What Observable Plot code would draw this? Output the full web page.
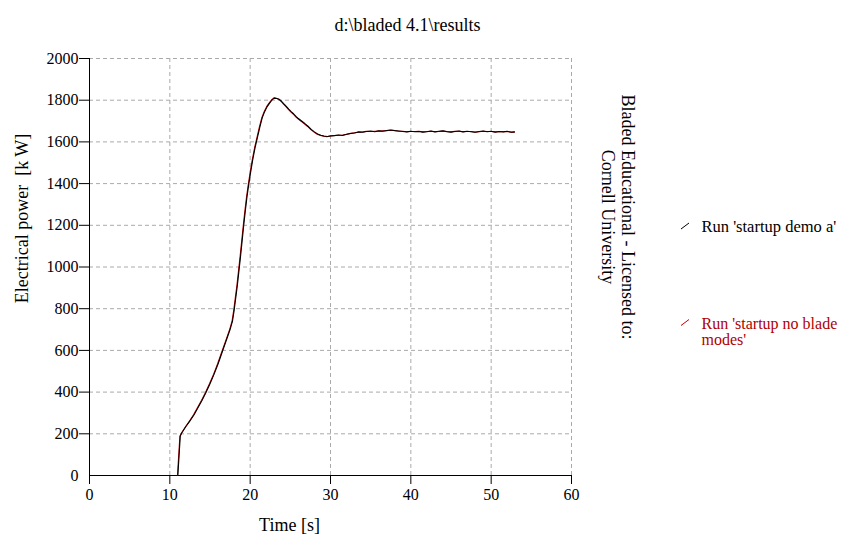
<!DOCTYPE html>
<html>
<head>
<meta charset="utf-8">
<script src="https://cdn.jsdelivr.net/npm/d3@7"></script>
<script src="https://cdn.jsdelivr.net/npm/@observablehq/plot@0.6"></script>
<style>
  body { margin: 0; background: #fff; }
  svg { font-family: "Liberation Serif", "DejaVu Serif", serif; }
</style>
</head>
<body>
<div id="chart"></div>
<script>
const titleText = "d:\\bladed 4.1\\results";
const xLabel = "Time [s]";
const yLabel = "Electrical power  [k W]";
const licenseText = "Bladed Educational - Licensed to:\nCornell University";
const seriesNames = ["Run 'startup demo a'", "Run 'startup no blade\nmodes'"];
const seriesColors = ["#000000", "#c00000"];
const labelColors = ["#000000", "#b00000"];

const xTicks = [0, 10, 20, 30, 40, 50, 60];
const yTicks = [0, 200, 400, 600, 800, 1000, 1200, 1400, 1600, 1800, 2000];

// Series A: Run 'startup demo a'
const timeA = [11.0, 11.3, 11.5, 12.0, 12.5, 13.0, 13.5, 14.0, 14.5, 15.0, 15.5, 16.0, 16.5, 17.0, 17.5, 17.8, 18.0, 18.2, 18.4, 18.6, 18.8, 19.0, 19.2, 19.4, 19.6, 19.8, 20.0, 20.3, 20.6, 20.9, 21.2, 21.5, 21.8, 22.1, 22.4, 22.7, 23.0, 23.3, 23.6, 23.9, 24.2, 24.5, 24.8, 25.1, 25.4, 25.7, 26.0, 26.4, 26.8, 27.2, 27.6, 28.0, 28.4, 28.8, 29.2, 29.6, 30.0, 30.5, 31.0, 31.5, 32.0, 32.5, 33.0, 33.5, 34.0, 34.5, 35.0, 35.5, 36.0, 36.5, 37.0, 37.5, 38.0, 38.5, 39.0, 39.5, 40.0, 40.5, 41.0, 41.5, 42.0, 42.5, 43.0, 43.5, 44.0, 44.5, 45.0, 45.5, 46.0, 46.5, 47.0, 47.5, 48.0, 48.5, 49.0, 49.5, 50.0, 50.5, 51.0, 51.5, 52.0, 52.5, 52.9];
const powerA = [0, 190, 205, 235, 262, 290, 325, 360, 398, 440, 485, 535, 590, 645, 700, 740, 790, 850, 910, 980, 1050, 1125, 1200, 1270, 1335, 1390, 1440, 1510, 1570, 1620, 1670, 1715, 1745, 1768, 1785, 1800, 1810, 1808, 1805, 1795, 1782, 1770, 1757, 1745, 1735, 1722, 1712, 1700, 1688, 1675, 1660, 1648, 1638, 1632, 1628, 1626, 1628, 1630, 1633, 1631, 1637, 1640, 1643, 1648, 1646, 1650, 1652, 1649, 1653, 1651, 1655, 1657, 1654, 1652, 1650, 1648, 1651, 1649, 1650, 1647, 1649, 1652, 1648, 1651, 1653, 1649, 1647, 1650, 1652, 1648, 1651, 1649, 1646, 1650, 1652, 1649, 1651, 1647, 1650, 1648, 1651, 1646, 1648];

// Series B: Run 'startup no blade modes'
const timeB = [10.95, 11.25, 11.45, 11.95, 12.45, 12.95, 13.45, 13.95, 14.45, 14.95, 15.45, 15.95, 16.45, 16.95, 17.45, 17.75, 17.95, 18.15, 18.35, 18.55, 18.75, 18.95, 19.15, 19.35, 19.55, 19.75, 19.95, 20.25, 20.55, 20.85, 21.15, 21.45, 21.75, 22.05, 22.35, 22.65, 22.95, 23.25, 23.55, 23.85, 24.15, 24.45, 24.75, 25.05, 25.35, 25.65, 25.95, 26.35, 26.75, 27.15, 27.55, 27.95, 28.35, 28.75, 29.15, 29.55, 30.0, 30.5, 31.0, 31.5, 32.0, 32.5, 33.0, 33.5, 34.0, 34.5, 35.0, 35.5, 36.0, 36.5, 37.0, 37.5, 38.0, 38.5, 39.0, 39.5, 40.0, 40.5, 41.0, 41.5, 42.0, 42.5, 43.0, 43.5, 44.0, 44.5, 45.0, 45.5, 46.0, 46.5, 47.0, 47.5, 48.0, 48.5, 49.0, 49.5, 50.0, 50.5, 51.0, 51.5, 52.0, 52.5, 52.9];
const powerB = [0, 188, 204, 234, 261, 291, 326, 361, 399, 441, 486, 536, 591, 646, 701, 742, 792, 852, 912, 982, 1052, 1127, 1202, 1272, 1337, 1392, 1442, 1512, 1572, 1622, 1672, 1716, 1746, 1769, 1786, 1801, 1811, 1809, 1804, 1794, 1781, 1769, 1756, 1744, 1734, 1721, 1711, 1699, 1687, 1674, 1659, 1647, 1637, 1631, 1627, 1625, 1629, 1631, 1632, 1633, 1636, 1641, 1644, 1646, 1648, 1651, 1650, 1651, 1652, 1653, 1654, 1656, 1655, 1651, 1651, 1649, 1650, 1650, 1651, 1648, 1650, 1651, 1649, 1650, 1652, 1650, 1648, 1651, 1651, 1649, 1650, 1650, 1647, 1649, 1651, 1650, 1650, 1648, 1649, 1649, 1650, 1647, 1647];

const dataA = timeA.map((t, i) => ({t, p: powerA[i]}));
const dataB = timeB.map((t, i) => ({t, p: powerB[i]}));

const fmt = d3.format("d");

const plot = Plot.plot({
  width: 852,
  height: 534,
  marginLeft: 89,
  marginRight: 281,
  marginTop: 58,
  marginBottom: 59,
  style: {fontFamily: "'Liberation Serif', 'DejaVu Serif', serif", fontSize: "16px", color: "#000", background: "#fff"},
  x: {domain: [0, 60], ticks: xTicks},
  y: {domain: [0, 2000], ticks: yTicks},
  marks: [
    Plot.gridX(xTicks.slice(1), {stroke: "#aaaaaa", strokeOpacity: 1, strokeDasharray: "4,3"}),
    Plot.gridY(yTicks.slice(1), {stroke: "#aaaaaa", strokeOpacity: 1, strokeDasharray: "4,3"}),
    Plot.axisX(xTicks, {tickSize: 9, tickPadding: 4, label: null, fontSize: 16, stroke: "#000", tickFormat: fmt}),
    Plot.axisY(yTicks.slice(1), {tickSize: 10, tickPadding: 1, label: null, fontSize: 16, stroke: "#000", tickFormat: fmt}),
    Plot.axisY([0], {tickSize: 0, tickPadding: 11, label: null, fontSize: 16, tickFormat: fmt}),
    Plot.ruleX([0], {stroke: "#000"}),
    Plot.ruleY([0], {stroke: "#000"}),
    Plot.line(dataB, {x: "t", y: "p", stroke: seriesColors[1], strokeWidth: 1.1}),
    Plot.line(dataA, {x: "t", y: "p", stroke: seriesColors[0], strokeWidth: 1.1}),
    Plot.text([titleText], {frameAnchor: "top", lineAnchor: "middle", textAnchor: "middle", dx: 77, dy: -33, fontSize: 18, fill: "#000"}),
    Plot.text([xLabel], {frameAnchor: "bottom", lineAnchor: "middle", textAnchor: "middle", dx: -41, dy: 50, fontSize: 18, fill: "#000"}),
    Plot.text([yLabel], {frameAnchor: "left", lineAnchor: "middle", textAnchor: "middle", rotate: -90, dx: -67, dy: -48.5, fontSize: 18, fill: "#000"}),
    Plot.text([licenseText], {frameAnchor: "right", lineAnchor: "middle", textAnchor: "middle", rotate: 90, dx: 47, dy: -50, fontSize: 18, lineHeight: 1.12, fill: "#000"}),
    Plot.text([seriesNames[0]], {frameAnchor: "right", lineAnchor: "middle", textAnchor: "start", dx: 130, dy: -40.5, fontSize: 16.5, fill: labelColors[0]}),
    Plot.text([seriesNames[1]], {frameAnchor: "right", lineAnchor: "middle", textAnchor: "start", dx: 130, dy: 64.5, fontSize: 16, lineHeight: 1.02, fill: labelColors[1]})
  ]
});

document.getElementById("chart").appendChild(plot);

// legend swatches (small diagonal line glyphs)
const svg = d3.select(plot);
const legendY = [226, 322.5];
legendY.forEach((cy, i) => {
  svg.append("line")
    .attr("x1", 681).attr("y1", cy + 3)
    .attr("x2", 689).attr("y2", cy - 3)
    .attr("stroke", seriesColors[i]).attr("stroke-width", 1);
});
</script>
</body>
</html>
